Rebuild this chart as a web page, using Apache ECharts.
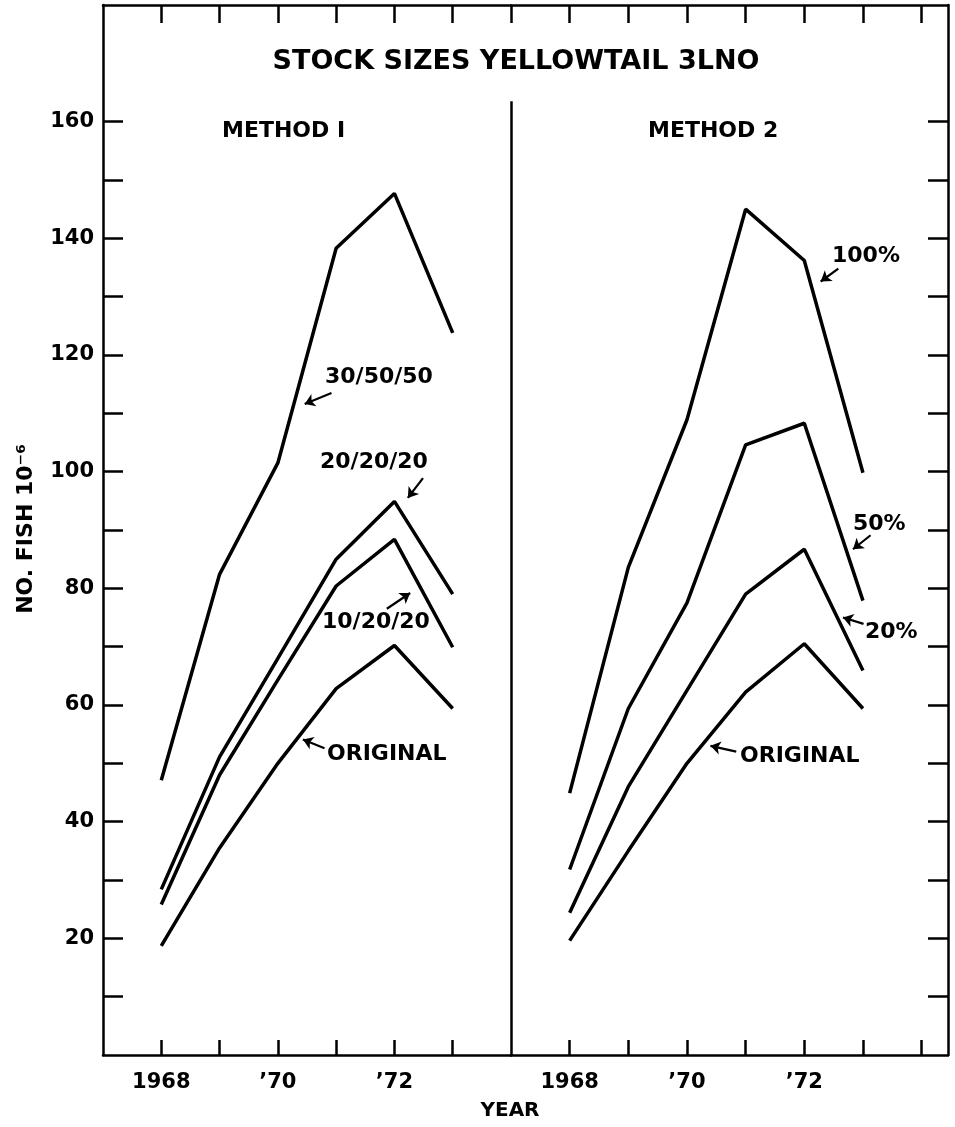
<!DOCTYPE html>
<html lang="en">
<head>
    <meta charset="UTF-8">
    <title>Stock sizes yellowtail 3LNO</title>
    <script src="https://cdn.jsdelivr.net/npm/echarts@6/dist/echarts.min.js"></script>
    <style>
        html, body { margin: 0; background: #fff; }
        #main { width: 955px; height: 1127px; }
    </style>
</head>
<body>
<div id="main"></div>
<script>
    // years on the x axis
    var years = [1968, 1969, 1970, 1971, 1972, 1973];

    // method 1 (No. fish x10^-6)
    var m1_305050  = [47.1, 82.4, 101.5, 138.3, 147.7, 123.8];
    var m1_202020  = [28.4, 51.1, 68.0, 85.0, 94.9, 79.0];
    var m1_102020  = [25.8, 48.0, 64.3, 80.4, 88.4, 69.9];
    var m1_original = [18.7, 35.5, 50.0, 62.8, 70.2, 59.4];

    // method 2
    var m2_100 = [44.9, 83.6, 108.9, 145.0, 136.2, 99.8];
    var m2_50  = [31.8, 59.4, 77.5, 104.6, 108.3, 77.9];
    var m2_20  = [24.4, 46.0, 62.5, 79.0, 86.7, 65.9];
    var m2_original = [19.6, 35.0, 50.0, 62.2, 70.5, 59.4];

    // ticks
    var yTicks = [10, 20, 30, 40, 50, 60, 70, 80, 90, 100, 110, 120, 130, 140, 150, 160];
    var yLabels = [20, 40, 60, 80, 100, 120, 140, 160];
    var xTicksLeft = [1968, 1969, 1970, 1971, 1972, 1973];
    var xTicksRight = [1968, 1969, 1970, 1971, 1972, 1973, 1974];
    var xTicksTop = [1968, 1969, 1970, 1971, 1972, 1973, 1974];
    var xLabels = [1968, 1970, 1972];

    var FONT = '"DejaVu Sans", sans-serif';
    var black = '#000';

    function pairs(vals) {
        return vals.map(function (v, i) { return [years[i], v]; });
    }

    function yearLabel(v) {
        return v === 1968 ? '1968' : '\u2019' + String(v).slice(2);
    }

    function xAx(grid, max, pos, ticks, tickLen, labels) {
        return {
            type: 'value', gridIndex: grid, position: pos, min: 1967, max: max,
            axisLine: { show: true, lineStyle: { color: black, width: 2.5 } },
            axisTick: { show: true, inside: true, length: tickLen, customValues: ticks,
                lineStyle: { color: black, width: 2.5 } },
            axisLabel: labels ? {
                show: true, customValues: labels, formatter: yearLabel, margin: 17,
                color: black, fontFamily: FONT, fontWeight: 'bold', fontSize: 21
            } : { show: false },
            splitLine: { show: false }
        };
    }

    function yAx(grid, pos, labels) {
        return {
            type: 'value', gridIndex: grid, position: pos, min: 0, max: 180,
            axisLine: { show: true, lineStyle: { color: black, width: 2.5 } },
            axisTick: { show: true, inside: true, length: 20, customValues: yTicks,
                lineStyle: { color: black, width: 2.5 } },
            axisLabel: labels ? {
                show: true, customValues: yLabels, margin: 9,
                color: black, fontFamily: FONT, fontWeight: 'bold', fontSize: 21
            } : { show: false },
            splitLine: { show: false }
        };
    }

    function arrow(x1, y1, x2, y2) {
        return [{ coord: [x1, y1] }, { coord: [x2, y2] }];
    }

    function line(name, vals, xi, yi, arrows) {
        var s = {
            name: name, type: 'line', data: pairs(vals),
            xAxisIndex: xi, yAxisIndex: yi,
            symbol: 'none', lineStyle: { color: black, width: 3.5 }
        };
        if (arrows) {
            s.markLine = {
                silent: true, symbol: ['none', 'arrow'], symbolSize: 10,
                label: { show: false },
                lineStyle: { color: black, width: 2.2, type: 'solid' },
                data: arrows
            };
        }
        return s;
    }

    function txt(text, x, y, size, align) {
        return {
            type: 'text', x: x, y: y,
            style: { text: text, fill: black, font: 'bold ' + size + 'px ' + FONT,
                align: align || 'left', verticalAlign: 'middle' }
        };
    }

    var chart = echarts.init(document.getElementById('main'));

    var option = {
        animation: false,
        backgroundColor: '#fff',
        grid: [
            { left: 103, right: 444, top: 5, bottom: 72 },
            { left: 511, right: 7, top: 5, bottom: 72 }
        ],
        xAxis: [
            xAx(0, 1974, 'bottom', xTicksLeft, 15, xLabels),
            xAx(0, 1974, 'top', xTicksTop, 18, null),
            xAx(1, 1974.45, 'bottom', xTicksRight, 15, xLabels),
            xAx(1, 1974.45, 'top', xTicksTop, 18, null)
        ],
        yAxis: [
            yAx(0, 'left', true),
            yAx(1, 'right', false)
        ],
        series: [
            line('30/50/50', m1_305050, 0, 0, [arrow(1970.92, 113.5, 1970.46, 111.6)]),
            line('20/20/20', m1_202020, 0, 0, [arrow(1972.49, 98.9, 1972.23, 95.5)]),
            line('10/20/20', m1_102020, 0, 0, [arrow(1971.87, 76.5, 1972.27, 79.2)]),
            line('Original', m1_original, 0, 0, [arrow(1970.80, 52.6, 1970.43, 54.1)]),
            line('100%', m2_100, 2, 1, [
                arrow(1972.58, 134.8, 1972.28, 132.6),
                // divider between the two panels
                [{ coord: [1967, 0], symbol: 'none', lineStyle: { width: 2.5 } },
                 { coord: [1967, 163.5], symbol: 'none' }]
            ]),
            line('50%', m2_50, 2, 1, [arrow(1973.13, 89.1, 1972.83, 86.7)]),
            line('20%', m2_20, 2, 1, [arrow(1973.01, 73.9, 1972.66, 75.0)]),
            line('Original', m2_original, 2, 1, [arrow(1970.84, 52.0, 1970.40, 53.0)])
        ],
        graphic: [
            txt('STOCK SIZES YELLOWTAIL 3LNO', 516, 62, 27, 'center'),
            txt('METHOD I', 222, 131, 22),
            txt('METHOD 2', 648, 131, 22),
            txt('30/50/50', 325, 377, 22),
            txt('20/20/20', 320, 462, 22),
            txt('10/20/20', 322, 622, 22),
            txt('ORIGINAL', 327, 754, 22),
            txt('100%', 832, 256, 22),
            txt('50%', 853, 524, 22),
            txt('20%', 865, 632, 22),
            txt('ORIGINAL', 740, 756, 22),
            txt('YEAR', 510, 1111, 20, 'center'),
            {
                type: 'text', x: 26, y: 529, rotation: Math.PI / 2,
                style: { text: 'NO. FISH 10\u207B\u2076', fill: black,
                    font: 'bold 22px ' + FONT, align: 'center', verticalAlign: 'middle' }
            }
        ]
    };

    chart.setOption(option);
</script>
</body>
</html>
